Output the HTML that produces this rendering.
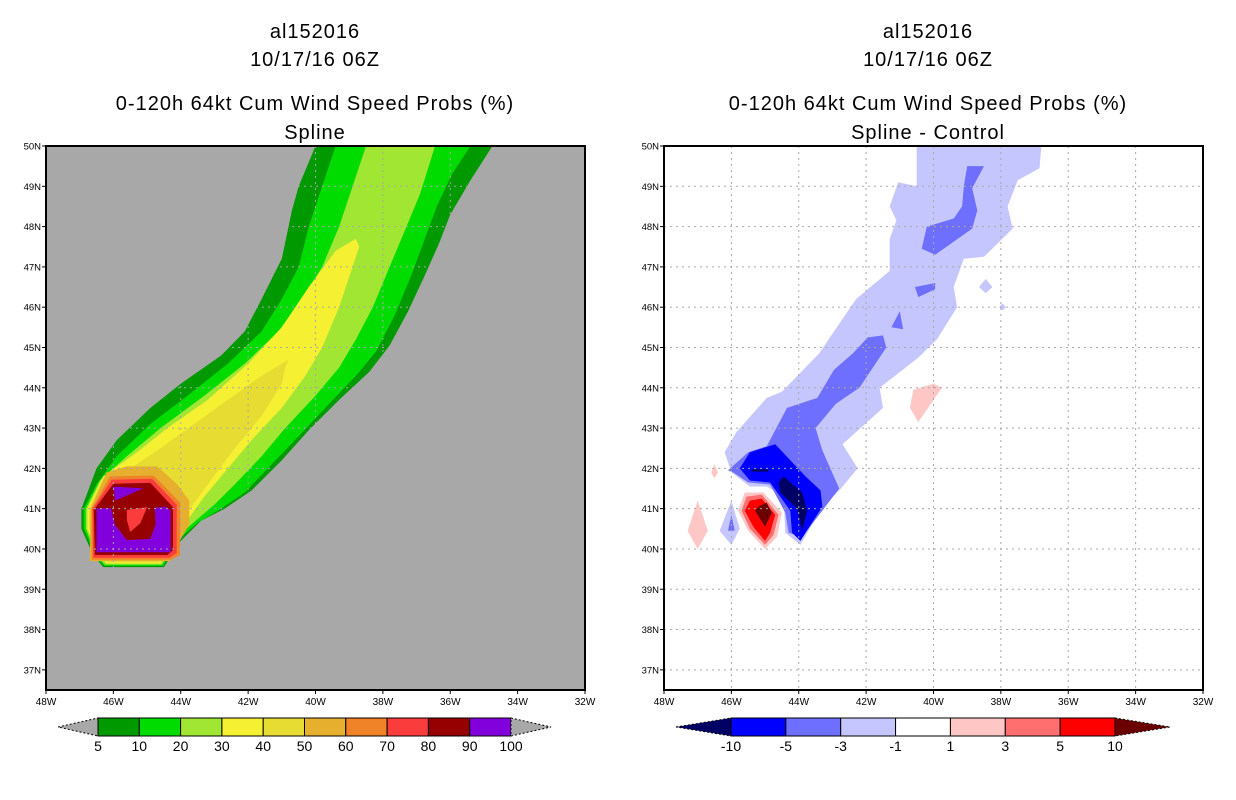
<!DOCTYPE html>
<html><head><meta charset="utf-8"><style>
html,body{margin:0;padding:0;background:#fff;}
svg{display:block;font-family:"Liberation Sans",sans-serif;}
</style></head><body>
<svg id="svg" width="1236" height="800" viewBox="0 0 1236 800">
<g font-size="20" text-anchor="middle" fill="#000" letter-spacing="1">
<text x="315" y="38">al152016</text>
<text x="315" y="66">10/17/16 06Z</text>
<text x="315" y="110">0-120h 64kt Cum Wind Speed Probs (%)</text>
<text x="315" y="139">Spline</text>
</g>
<g font-size="20" text-anchor="middle" fill="#000" letter-spacing="1">
<text x="928" y="38">al152016</text>
<text x="928" y="66">10/17/16 06Z</text>
<text x="928" y="110">0-120h 64kt Cum Wind Speed Probs (%)</text>
<text x="928" y="139">Spline - Control</text>
</g>
<g id="left"></g>
<g id="right"></g>
<g id="cbl"></g>
<g id="cbr"></g>
</svg>
<script>
const NS="http://www.w3.org/2000/svg";
const lonTicks=[48,46,44,42,40,38,36,34,32];
const latTicks=[50,49,48,47,46,45,44,43,42,41,40,39,38,37];
const leftLevels=["5","10","20","30","40","50","60","70","80","90","100"];
const leftColors=["#009900","#00dc00","#a0e632","#f5f032","#e6dc32","#e6af2d","#f08228","#fa3c3c","#960000","#8200dc"];
const rightLevels=["-10","-5","-3","-1","1","3","5","10"];
const rightColors=["#000064","#0000ff","#6f6fff","#c6c6ff","#ffffff","#ffc6c6","#ff6f6f","#ff0000","#6a0000"];

// Left panel contour polygons [lonW, lat]
const p5=[[40.0,50],[40.5,49],[40.7,48.4],[41.0,47.2],[41.6,46.2],[42.1,45.4],[42.8,44.8],[44.0,44.1],[44.9,43.5],[45.9,42.7],[46.5,42.0],[46.95,41.0],[46.95,40.5],[46.6,39.85],[46.3,39.55],[44.5,39.55],[44.0,40.2],[43.4,40.7],[42.7,41.0],[41.9,41.45],[41.0,42.2],[40.2,42.95],[39.3,43.7],[38.4,44.4],[37.8,45.05],[37.25,45.9],[36.75,46.8],[36.35,47.55],[36.0,48.3],[35.4,49.15],[34.75,50]];
const p10=[[39.4,50],[39.8,49],[40.2,48],[40.5,47],[41.0,46.2],[41.6,45.4],[42.6,44.6],[43.8,43.8],[44.9,43.1],[45.9,42.3],[46.5,41.6],[46.88,41.0],[46.88,40.5],[46.55,39.85],[46.28,39.58],[44.52,39.58],[44.1,40.2],[43.5,40.65],[42.9,40.95],[42.1,41.4],[41.3,42.1],[40.5,42.8],[39.6,43.6],[38.8,44.3],[38.2,44.9],[37.65,45.8],[37.15,46.8],[36.8,47.6],[36.4,48.5],[35.95,49.3],[35.4,50]];
const p20=[[38.5,50],[38.9,49],[39.3,48],[39.8,47],[40.4,46.2],[41.1,45.4],[42.1,44.6],[43.3,43.8],[44.6,43.0],[45.6,42.3],[46.4,41.7],[46.82,41.0],[46.82,40.5],[46.5,39.85],[46.25,39.61],[44.55,39.61],[44.2,40.2],[43.7,40.6],[43.0,41.1],[42.4,41.6],[41.6,42.3],[40.9,43.0],[40.0,43.8],[39.3,44.5],[38.8,45.2],[38.3,46.0],[37.8,47.0],[37.4,47.8],[36.9,48.8],[36.45,50]];
const p30=[[38.8,47.7],[39.4,47.4],[40.2,46.5],[41.0,45.5],[42.0,44.6],[43.2,43.7],[44.4,43.0],[45.3,42.4],[46.3,41.8],[46.77,41.0],[46.77,40.5],[46.45,39.85],[46.2,39.64],[44.6,39.64],[44.3,40.2],[43.9,40.6],[43.3,41.3],[42.6,42.0],[41.9,42.7],[41.0,43.5],[40.3,44.3],[39.8,45.0],[39.3,46.0],[38.9,47.0],[38.7,47.5]];
const p40=[[40.8,44.7],[41.6,44.3],[42.6,43.7],[43.6,43.1],[44.6,42.5],[45.5,42.0],[46.3,41.75],[46.72,41.0],[46.72,40.5],[46.4,39.85],[46.15,39.67],[44.65,39.67],[44.4,40.1],[43.9,40.8],[43.2,41.6],[42.4,42.5],[41.6,43.3],[41.0,44.1],[40.9,44.5]];
const p50=[[46.2,41.9],[45.6,42.05],[44.7,42.05],[44.1,41.6],[43.75,41.2],[43.75,40.6],[44.1,40.1],[44.3,39.7],[46.7,39.7],[46.68,41.0]];
const p60=[[46.1,41.8],[44.8,41.82],[44.02,41.15],[44.02,39.85],[44.3,39.73],[46.65,39.73],[46.64,41.0]];
const p70=[[46.05,41.72],[44.85,41.74],[44.12,41.1],[44.12,39.9],[44.35,39.78],[46.6,39.78],[46.62,41.0]];
const p80=[[46.0,41.62],[44.9,41.64],[44.23,41.04],[44.23,39.97],[44.4,39.85],[46.55,39.85],[46.58,40.97]];
const p90=[[46.5,41.0],[46.08,41.02],[45.95,40.6],[45.6,40.22],[44.9,40.25],[44.75,40.6],[44.77,41.02],[44.45,41.05],[44.3,40.95],[44.3,39.92],[46.5,39.92]];
const p90top=[[46.0,41.55],[45.1,41.5],[45.4,41.4],[45.95,41.2]];
const p70core=[[45.6,40.97],[45.0,41.04],[45.2,40.64],[45.5,40.42],[45.6,40.72]];
const leftPolys=[[p5,0],[p10,1],[p20,2],[p30,3],[p40,4],[p50,5],[p60,6],[p70,7],[p80,8],[p90,9],[p90top,9],[p70core,7]];

// Right panel difference polygons [lonW, lat]
const nLight=[[40.5,50],[36.8,50],[36.85,49.45],[37.5,49.15],[37.8,48.5],[37.65,47.95],[38.5,47.25],[39.1,47.2],[39.4,46.5],[39.3,46.0],[39.9,45.2],[40.45,44.75],[41.6,44.0],[41.5,43.5],[42.7,42.6],[42.25,42.0],[42.8,41.45],[43.3,41.05],[43.95,40.1],[44.4,40.4],[44.45,41.3],[44.95,41.55],[45.45,41.55],[46.0,41.9],[46.2,42.4],[45.85,42.9],[44.95,43.75],[44.5,43.9],[43.4,44.85],[42.3,46.2],[41.3,46.9],[41.3,47.7],[41.1,48.15],[41.3,48.5],[41.05,49.1],[40.5,49.0]];
const nMed=[[46.1,41.95],[45.5,42.4],[44.95,42.55],[44.35,43.5],[43.45,43.75],[42.95,44.45],[42.4,44.85],[41.95,45.25],[41.5,45.3],[41.4,45.0],[42.2,44.0],[42.9,43.6],[43.5,43.0],[43.3,42.45],[42.8,41.5],[43.3,40.95],[43.9,40.3],[44.3,40.4],[44.4,40.9],[44.85,41.6],[45.5,41.65],[45.95,41.9]];
const nBlue=[[45.75,42.0],[45.45,42.4],[44.7,42.6],[43.8,41.8],[43.35,41.45],[43.3,41.05],[43.95,40.2],[44.2,40.4],[44.25,40.95],[44.85,41.65],[45.45,41.7]];
const nNavy=[[44.6,41.65],[44.45,41.8],[43.9,41.4],[43.75,40.95],[43.9,40.45],[44.05,41.0],[44.55,41.4]];
const nNavy2=[[45.4,41.98],[44.9,41.98],[44.9,41.92],[45.4,41.92]];
const nMedUp=[[39.0,49.5],[38.5,49.5],[38.85,48.95],[38.7,48.4],[38.85,47.95],[39.95,47.3],[40.35,47.45],[40.2,48.0],[39.4,48.2],[39.15,48.5],[39.1,49.0]];
const nMedA=[[40.55,46.5],[39.95,46.6],[39.95,46.45],[40.45,46.25]];
const nMedB=[[41.0,45.9],[40.9,45.45],[41.25,45.5]];
const nLightD=[[38.45,46.7],[38.25,46.5],[38.45,46.35],[38.65,46.5]];
const nLightT=[[37.95,46.1],[37.85,46.0],[37.95,45.92],[38.05,46.0]];
const nLightL=[[46.0,41.2],[45.75,40.5],[46.0,40.1],[46.35,40.45]];
const nMedL=[[46.0,40.85],[45.9,40.45],[46.1,40.45]];
const pPinkE=[[40.6,43.95],[40.0,44.1],[39.75,44.0],[40.45,43.15],[40.7,43.5]];
const pPinkS=[[46.5,42.1],[46.4,41.9],[46.5,41.75],[46.6,41.9]];
const pPinkD=[[47.0,41.2],[46.7,40.45],[47.0,40.0],[47.3,40.45]];
const pPink=[[45.6,41.4],[45.05,41.4],[44.5,40.9],[44.65,40.3],[45.0,40.0],[45.5,40.45],[45.8,40.95]];
const pSalmon=[[45.55,41.3],[45.1,41.35],[44.6,40.85],[44.75,40.35],[45.0,40.1],[45.45,40.5],[45.7,40.95]];
const pRed=[[45.45,41.2],[45.1,41.25],[44.7,40.85],[44.85,40.4],[45.0,40.2],[45.35,40.55],[45.6,40.95]];
const pDark=[[45.2,41.05],[44.95,41.15],[44.8,40.9],[45.0,40.55],[45.3,40.95]];
const rightPolys=[[nLight,3],[nMed,2],[nBlue,1],[nNavy,0],[nNavy2,0],[nMedUp,2],[nMedA,2],[nMedB,2],[nLightD,3],[nLightT,3],[nLightL,3],[nMedL,2],[pPinkE,5],[pPinkS,5],[pPinkD,5],[pPink,5],[pSalmon,6],[pRed,7],[pDark,8]];

const PW=539, PH=544, PT=146;
function xs(x0){return lon=>x0+(48-lon)/16*PW;}
function ys(lat){return PT+(50-lat)/13.5*PH;}
function el(tag,attrs,parent){const e=document.createElementNS(NS,tag);for(const k in attrs)e.setAttribute(k,attrs[k]);parent.appendChild(e);return e;}

function panel(gid,x0,bg,polys,colors,gridCol,label){
  const g=document.getElementById(gid), X=xs(x0);
  const r=el('rect',{x:x0,y:PT,width:PW,height:PH,fill:bg},g);
  
  
  polys.forEach((pc,i)=>{
    const pts=pc[0].map(p=>X(p[0]).toFixed(1)+','+ys(p[1]).toFixed(1)).join(' ');
    const p=el('polygon',{points:pts,fill:colors[pc[1]]},g);
    
    
  });
  lonTicks.forEach(l=>{
    if(l!==48&&l!==32){
      const ln=el('line',{x1:X(l),x2:X(l),y1:PT,y2:PT+PH,stroke:gridCol,'stroke-width':1,'stroke-dasharray':'2,4'},g);
      
      
    }
    const tk=el('line',{x1:X(l),x2:X(l),y1:PT+PH,y2:PT+PH+4,stroke:'#000','stroke-width':1},g);
    
    
    const t=el('text',{x:X(l),y:PT+PH+15,'font-size':10,'text-anchor':'middle'},g);
    t.textContent=l+'W';
    
    
  });
  latTicks.forEach(l=>{
    if(l!==50){
      const ln=el('line',{x1:x0,x2:x0+PW,y1:ys(l),y2:ys(l),stroke:gridCol,'stroke-width':1,'stroke-dasharray':'2,4'},g);
      
      
    }
    const tk=el('line',{x1:x0-4,x2:x0,y1:ys(l),y2:ys(l),stroke:'#000','stroke-width':1},g);
    
    
    const t=el('text',{x:x0-5,y:ys(l)+3.5,'font-size':9.5,'text-anchor':'end'},g);
    t.textContent=l+'N';
    
    
  });
  const f=el('rect',{x:x0,y:PT,width:PW,height:PH,fill:'none',stroke:'#000','stroke-width':2},g);
  
  
}
panel('left',46,'#a8a8a8',leftPolys,leftColors,'#a8a8a8','left');
panel('right',664,'#ffffff',rightPolys,rightColors,'#a8a8a8','right');

function colorbar(gid,x0,x1,tri,colors,levels,label){
  const g=document.getElementById(gid); const y0=718,h=18,n=colors.length-2;
  const bw=(x1-x0)/n;
  const lp=el('polygon',{points:`${x0-tri},${y0+h/2} ${x0},${y0} ${x0},${y0+h}`,fill:colors[0],stroke:'#000','stroke-width':1,'stroke-dasharray':'2,2'},g);
  
  
  for(let i=0;i<n;i++){
    const r=el('rect',{x:x0+i*bw,y:y0,width:bw,height:h,fill:colors[1+i],stroke:'#000','stroke-width':1},g);
    
    
  }
  const rp=el('polygon',{points:`${x1},${y0} ${x1+tri},${y0+h/2} ${x1},${y0+h}`,fill:colors[colors.length-1],stroke:'#000','stroke-width':1,'stroke-dasharray':'2,2'},g);
  
  
  levels.forEach((lv,i)=>{
    const t=el('text',{x:x0+i*bw,y:y0+h+15,'font-size':14,'text-anchor':'middle'},g);
    t.textContent=lv;
    
    
  });
}
colorbar('cbl',98,511,40,['#a8a8a8'].concat(leftColors).concat(['#a8a8a8']),leftLevels,'left-colorbar');
colorbar('cbr',731,1115,55,rightColors,rightLevels,'right-colorbar');
</script>
</body></html>
